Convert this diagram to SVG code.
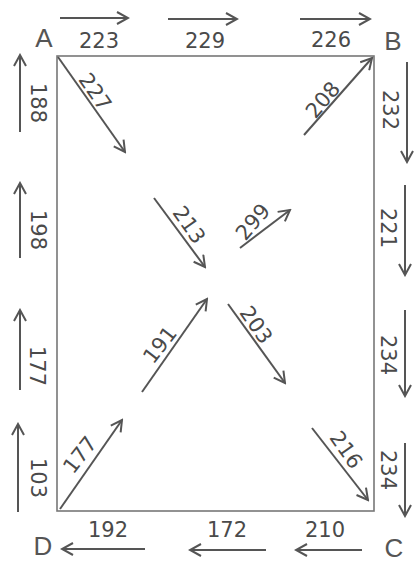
<svg xmlns="http://www.w3.org/2000/svg" width="414" height="562" viewBox="0 0 414 562">
<defs>
<marker id="ah" markerWidth="14" markerHeight="14" refX="12" refY="7" orient="auto" markerUnits="userSpaceOnUse">
<path d="M1,1 L12,7 L1,13" fill="none" stroke="#555" stroke-width="2"/>
</marker>
<style>
.edge{stroke:#555;stroke-width:2;fill:none}
.box{stroke:#777;stroke-width:1.6;fill:none}
.lbl{font-family:"DejaVu Sans","Liberation Sans",sans-serif;font-size:21px;fill:#4a4a4a;text-anchor:middle;dominant-baseline:central}
.corner{font-family:"Liberation Sans",sans-serif;font-size:26px;fill:#555;text-anchor:middle;dominant-baseline:central}
</style>
</defs>
<rect width="414" height="562" fill="#fff"/>
<g id="frame"><rect class="box" x="57" y="56" width="317" height="455"/></g>
<g id="A"><text class="corner" x="44" y="38">A</text></g>
<g id="B"><text class="corner" x="393" y="41">B</text></g>
<g id="C"><text class="corner" x="394" y="548">C</text></g>
<g id="D"><text class="corner" x="43" y="546">D</text></g>
<g id="connectors">
<line class="edge" x1="60" y1="18" x2="128" y2="18" marker-end="url(#ah)"/>
<line class="edge" x1="168" y1="19" x2="237" y2="19" marker-end="url(#ah)"/>
<line class="edge" x1="300" y1="19" x2="370" y2="19" marker-end="url(#ah)"/>
<line class="edge" x1="145" y1="549" x2="62" y2="549" marker-end="url(#ah)"/>
<line class="edge" x1="266" y1="550" x2="190" y2="550" marker-end="url(#ah)"/>
<line class="edge" x1="362" y1="550" x2="296" y2="550" marker-end="url(#ah)"/>
<line class="edge" x1="20" y1="132" x2="20" y2="55" marker-end="url(#ah)"/>
<line class="edge" x1="20" y1="258" x2="20" y2="183" marker-end="url(#ah)"/>
<line class="edge" x1="20" y1="390" x2="20" y2="310" marker-end="url(#ah)"/>
<line class="edge" x1="18" y1="512" x2="18" y2="424" marker-end="url(#ah)"/>
<line class="edge" x1="407" y1="62" x2="407" y2="162" marker-end="url(#ah)"/>
<line class="edge" x1="405" y1="185" x2="405" y2="275" marker-end="url(#ah)"/>
<line class="edge" x1="405" y1="310" x2="405" y2="396" marker-end="url(#ah)"/>
<line class="edge" x1="405" y1="443" x2="405" y2="516" marker-end="url(#ah)"/>
<line class="edge" x1="58" y1="57" x2="125" y2="152" marker-end="url(#ah)"/>
<line class="edge" x1="304" y1="135" x2="372" y2="58" marker-end="url(#ah)"/>
<line class="edge" x1="154" y1="198" x2="205" y2="267" marker-end="url(#ah)"/>
<line class="edge" x1="240" y1="248" x2="290" y2="210" marker-end="url(#ah)"/>
<line class="edge" x1="142" y1="392" x2="207" y2="299" marker-end="url(#ah)"/>
<line class="edge" x1="228" y1="304" x2="285" y2="383" marker-end="url(#ah)"/>
<line class="edge" x1="60" y1="509" x2="122" y2="420" marker-end="url(#ah)"/>
<line class="edge" x1="312" y1="428" x2="368" y2="500" marker-end="url(#ah)"/>
</g>
<g id="labels">
<text class="lbl" x="99" y="41">223</text>
<text class="lbl" x="205" y="41">229</text>
<text class="lbl" x="331" y="40">226</text>
<text class="lbl" x="108" y="530">192</text>
<text class="lbl" x="227" y="530">172</text>
<text class="lbl" x="325" y="530">210</text>
<text class="lbl" transform="translate(38,103) rotate(90)">188</text>
<text class="lbl" transform="translate(38,230) rotate(90)">198</text>
<text class="lbl" transform="translate(37,366) rotate(90)">177</text>
<text class="lbl" transform="translate(38,478) rotate(90)">103</text>
<text class="lbl" transform="translate(390,110) rotate(90)">232</text>
<text class="lbl" transform="translate(388,228) rotate(90)">221</text>
<text class="lbl" transform="translate(388,355) rotate(90)">234</text>
<text class="lbl" transform="translate(388,470) rotate(90)">234</text>
<text class="lbl" transform="translate(95,92) rotate(55)">227</text>
<text class="lbl" transform="translate(323,100) rotate(-50)">208</text>
<text class="lbl" transform="translate(189,225) rotate(55)">213</text>
<text class="lbl" transform="translate(253,222) rotate(-50)">299</text>
<text class="lbl" transform="translate(160,345) rotate(-52)">191</text>
<text class="lbl" transform="translate(256,325) rotate(55)">203</text>
<text class="lbl" transform="translate(80,455) rotate(-52)">177</text>
<text class="lbl" transform="translate(346,450) rotate(55)">216</text>
</g>
</svg>
